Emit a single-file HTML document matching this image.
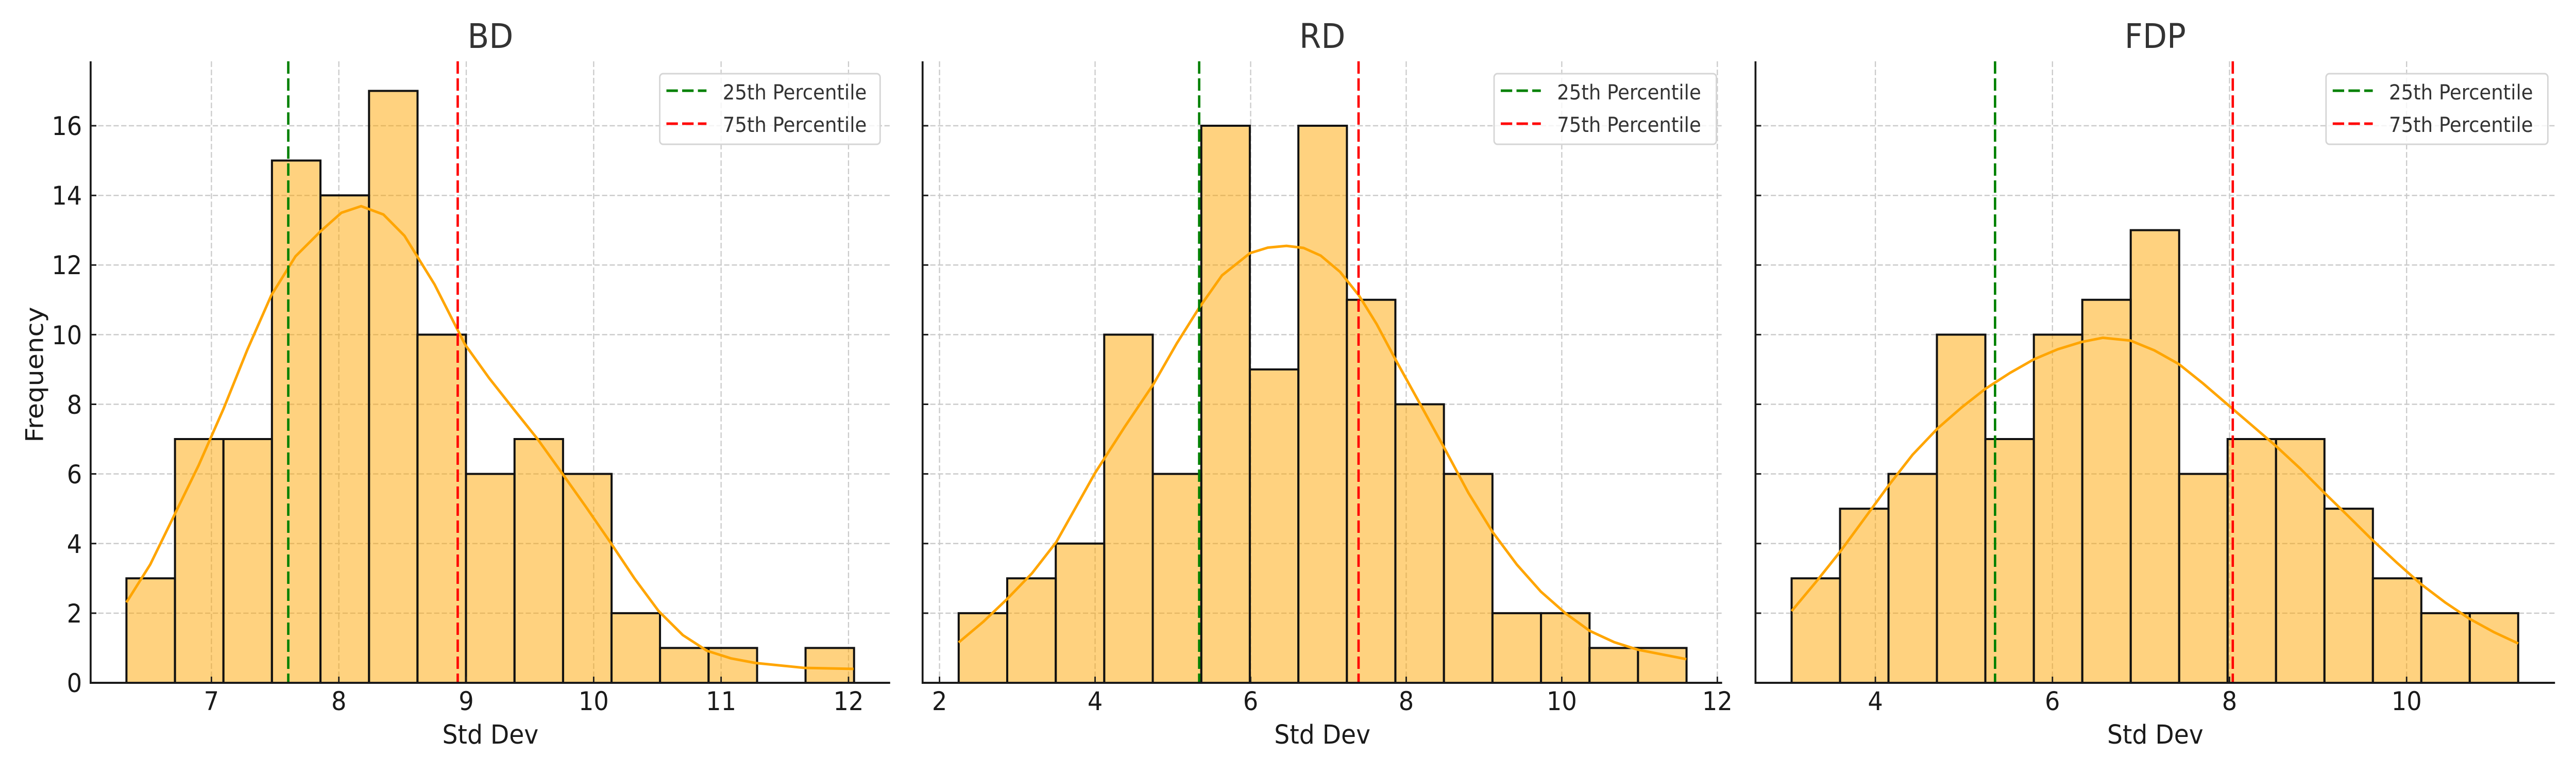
<!DOCTYPE html>
<html><head><meta charset="utf-8"><style>
html,body{margin:0;padding:0;background:#fff;width:100%;height:100%;overflow:hidden;}
svg text{font-family:"DejaVu Sans","Liberation Sans",sans-serif;}
#c{display:block;position:fixed;left:0;top:0;width:100vw;height:100vh;}
</style></head><body>
<svg id="c" viewBox="0 0 5400 1500" preserveAspectRatio="none" xmlns="http://www.w3.org/2000/svg">
<rect width="5400" height="1500" fill="#fff"/>
<g stroke="#cbcbcb" stroke-width="2.5" stroke-dasharray="11 5" fill="none">
<path d="M190 1189.9H1866M190 1054.8H1866M190 919.6H1866M190 784.5H1866M190 649.4H1866M190 514.3H1866M190 379.2H1866M190 244H1866"/>
<path d="M443.2 119V1325M710.3 119V1325M977.4 119V1325M1244.5 119V1325M1511.6 119V1325M1778.7 119V1325"/>
<path d="M1934 1189.9H3610M1934 1054.8H3610M1934 919.6H3610M1934 784.5H3610M1934 649.4H3610M1934 514.3H3610M1934 379.2H3610M1934 244H3610"/>
<path d="M1969.5 119V1325M2295.6 119V1325M2621.7 119V1325M2947.8 119V1325M3273.9 119V1325M3600 119V1325"/>
<path d="M3680 1189.9H5356M3680 1054.8H5356M3680 919.6H5356M3680 784.5H5356M3680 649.4H5356M3680 514.3H5356M3680 379.2H5356M3680 244H5356"/>
<path d="M3931.3 119V1325M4302.5 119V1325M4673.7 119V1325M5044.9 119V1325"/>
</g>

<svg x="190" y="119" width="1676" height="1206" viewBox="6.052 0 6.275 17.85" preserveAspectRatio="none">
<g fill="rgba(255,165,0,0.5)" stroke="#111" stroke-width="4">
<rect x="6.333" y="14.85" width="0.3807" height="3" vector-effect="non-scaling-stroke"/>
<rect x="6.714" y="10.85" width="0.3807" height="7" vector-effect="non-scaling-stroke"/>
<rect x="7.094" y="10.85" width="0.3807" height="7" vector-effect="non-scaling-stroke"/>
<rect x="7.475" y="2.85" width="0.3807" height="15" vector-effect="non-scaling-stroke"/>
<rect x="7.856" y="3.85" width="0.3807" height="14" vector-effect="non-scaling-stroke"/>
<rect x="8.237" y="0.85" width="0.3807" height="17" vector-effect="non-scaling-stroke"/>
<rect x="8.617" y="7.85" width="0.3807" height="10" vector-effect="non-scaling-stroke"/>
<rect x="8.998" y="11.85" width="0.3807" height="6" vector-effect="non-scaling-stroke"/>
<rect x="9.379" y="10.85" width="0.3807" height="7" vector-effect="non-scaling-stroke"/>
<rect x="9.760" y="11.85" width="0.3807" height="6" vector-effect="non-scaling-stroke"/>
<rect x="10.140" y="15.85" width="0.3807" height="2" vector-effect="non-scaling-stroke"/>
<rect x="10.521" y="16.85" width="0.3807" height="1" vector-effect="non-scaling-stroke"/>
<rect x="10.902" y="16.85" width="0.3807" height="1" vector-effect="non-scaling-stroke"/>
<rect x="11.663" y="16.85" width="0.3807" height="1" vector-effect="non-scaling-stroke"/>
</g>
<polyline fill="none" stroke="#FFA500" stroke-width="5" stroke-linejoin="round" vector-effect="non-scaling-stroke" points="6.333,15.54 6.52,14.45 6.70,13.10 6.90,11.60 7.095,9.98 7.28,8.30 7.47,6.72 7.66,5.60 7.86,4.87 8.02,4.35 8.175,4.16 8.35,4.40 8.515,5.01 8.75,6.40 8.99,8.13 9.18,9.10 9.37,9.98 9.56,10.85 9.75,11.82 9.94,12.80 10.13,13.81 10.32,14.85 10.51,15.79 10.70,16.48 10.89,16.93 11.08,17.15 11.27,17.28 11.65,17.42 12.04,17.45"/>
</svg>

<svg x="1934" y="119" width="1676" height="1206" viewBox="1.782 0 10.278 17.85" preserveAspectRatio="none">
<g fill="rgba(255,165,0,0.5)" stroke="#111" stroke-width="4">
<rect x="2.246" y="15.85" width="0.6238" height="2" vector-effect="non-scaling-stroke"/>
<rect x="2.870" y="14.85" width="0.6238" height="3" vector-effect="non-scaling-stroke"/>
<rect x="3.494" y="13.85" width="0.6238" height="4" vector-effect="non-scaling-stroke"/>
<rect x="4.117" y="7.85" width="0.6238" height="10" vector-effect="non-scaling-stroke"/>
<rect x="4.741" y="11.85" width="0.6238" height="6" vector-effect="non-scaling-stroke"/>
<rect x="5.365" y="1.85" width="0.6238" height="16" vector-effect="non-scaling-stroke"/>
<rect x="5.989" y="8.85" width="0.6238" height="9" vector-effect="non-scaling-stroke"/>
<rect x="6.613" y="1.85" width="0.6238" height="16" vector-effect="non-scaling-stroke"/>
<rect x="7.236" y="6.85" width="0.6238" height="11" vector-effect="non-scaling-stroke"/>
<rect x="7.860" y="9.85" width="0.6238" height="8" vector-effect="non-scaling-stroke"/>
<rect x="8.484" y="11.85" width="0.6238" height="6" vector-effect="non-scaling-stroke"/>
<rect x="9.108" y="15.85" width="0.6238" height="2" vector-effect="non-scaling-stroke"/>
<rect x="9.732" y="15.85" width="0.6238" height="2" vector-effect="non-scaling-stroke"/>
<rect x="10.355" y="16.85" width="0.6238" height="1" vector-effect="non-scaling-stroke"/>
<rect x="10.979" y="16.85" width="0.6238" height="1" vector-effect="non-scaling-stroke"/>
</g>
<polyline fill="none" stroke="#FFA500" stroke-width="5" stroke-linejoin="round" vector-effect="non-scaling-stroke" points="2.246,16.69 2.56,16.10 2.87,15.44 3.19,14.70 3.50,13.81 4.0,11.82 4.38,10.50 4.75,9.27 5.05,8.10 5.34,7.07 5.63,6.15 5.99,5.51 6.22,5.35 6.46,5.30 6.68,5.36 6.90,5.58 7.15,6.05 7.39,6.72 7.62,7.55 7.86,8.56 8.18,9.85 8.49,11.11 8.80,12.40 9.11,13.52 9.42,14.45 9.73,15.23 10.05,15.86 10.36,16.36 10.67,16.68 10.98,16.90 11.60,17.17"/>
</svg>

<svg x="3680" y="119" width="1676" height="1206" viewBox="2.646 0 9.03 17.85" preserveAspectRatio="none">
<g fill="rgba(255,165,0,0.5)" stroke="#111" stroke-width="4">
<rect x="3.054" y="14.85" width="0.5471" height="3" vector-effect="non-scaling-stroke"/>
<rect x="3.601" y="12.85" width="0.5471" height="5" vector-effect="non-scaling-stroke"/>
<rect x="4.148" y="11.85" width="0.5471" height="6" vector-effect="non-scaling-stroke"/>
<rect x="4.695" y="7.85" width="0.5471" height="10" vector-effect="non-scaling-stroke"/>
<rect x="5.242" y="10.85" width="0.5471" height="7" vector-effect="non-scaling-stroke"/>
<rect x="5.790" y="7.85" width="0.5471" height="10" vector-effect="non-scaling-stroke"/>
<rect x="6.337" y="6.85" width="0.5471" height="11" vector-effect="non-scaling-stroke"/>
<rect x="6.884" y="4.85" width="0.5471" height="13" vector-effect="non-scaling-stroke"/>
<rect x="7.431" y="11.85" width="0.5471" height="6" vector-effect="non-scaling-stroke"/>
<rect x="7.978" y="10.85" width="0.5471" height="7" vector-effect="non-scaling-stroke"/>
<rect x="8.525" y="10.85" width="0.5471" height="7" vector-effect="non-scaling-stroke"/>
<rect x="9.072" y="12.85" width="0.5471" height="5" vector-effect="non-scaling-stroke"/>
<rect x="9.619" y="14.85" width="0.5471" height="3" vector-effect="non-scaling-stroke"/>
<rect x="10.166" y="15.85" width="0.5471" height="2" vector-effect="non-scaling-stroke"/>
<rect x="10.713" y="15.85" width="0.5471" height="2" vector-effect="non-scaling-stroke"/>
</g>
<polyline fill="none" stroke="#FFA500" stroke-width="5" stroke-linejoin="round" vector-effect="non-scaling-stroke" points="3.054,15.79 3.33,14.95 3.60,14.09 3.88,13.12 4.15,12.18 4.42,11.30 4.70,10.55 4.97,9.95 5.24,9.41 5.52,8.95 5.79,8.56 6.06,8.27 6.33,8.06 6.57,7.94 6.88,8.02 7.15,8.30 7.43,8.70 7.70,9.25 7.97,9.84 8.25,10.45 8.52,11.04 8.80,11.70 9.07,12.39 9.34,13.06 9.61,13.74 9.89,14.40 10.16,15.01 10.44,15.55 10.71,16.01 10.99,16.40 11.26,16.72"/>
</svg>

<g stroke-width="5" stroke-dasharray="24 9" fill="none">
<path d="M604.3 119V1325" stroke="#008000"/>
<path d="M959.5 119V1325" stroke="#ff0000"/>
<path d="M2513.8 119V1325" stroke="#008000"/>
<path d="M2847.9 119V1325" stroke="#ff0000"/>
<path d="M4182.2 119V1325" stroke="#008000"/>
<path d="M4680.5 119V1325" stroke="#ff0000"/>
</g>

<g stroke="#1a1a1a" fill="none">
<path d="M190 119V1325H1866M1934 119V1325H3610M3680 119V1325H5356" stroke-width="4"/>
<path stroke-width="3" d="M190 1189.9h12M190 1054.8h12M190 919.6h12M190 784.5h12M190 649.4h12M190 514.3h12M190 379.2h12M190 244h12
M1934 1189.9h12M1934 1054.8h12M1934 919.6h12M1934 784.5h12M1934 649.4h12M1934 514.3h12M1934 379.2h12M1934 244h12
M3680 1189.9h12M3680 1054.8h12M3680 919.6h12M3680 784.5h12M3680 649.4h12M3680 514.3h12M3680 379.2h12M3680 244h12
M443.2 1325v-12M710.3 1325v-12M977.4 1325v-12M1244.5 1325v-12M1511.6 1325v-12M1778.7 1325v-12
M1969.5 1325v-12M2295.6 1325v-12M2621.7 1325v-12M2947.8 1325v-12M3273.9 1325v-12M3600 1325v-12
M3931.3 1325v-12M4302.5 1325v-12M4673.7 1325v-12M5044.9 1325v-12"/>
</g>

<g>
<rect x="1383" y="143" width="462" height="137" rx="7" fill="rgba(255,255,255,0.8)" stroke="#d5d5d5" stroke-width="3"/>
<path d="M1397 176H1481" stroke="#008000" stroke-width="5" stroke-dasharray="24 9"/>
<path d="M1397 240H1481" stroke="#ff0000" stroke-width="5" stroke-dasharray="24 9"/>
<text x="1515" y="193" font-size="40" fill="#333">25th Percentile</text>
<text x="1515" y="256" font-size="40" fill="#333">75th Percentile</text>

<rect x="3132" y="143" width="466" height="137" rx="7" fill="rgba(255,255,255,0.8)" stroke="#d5d5d5" stroke-width="3"/>
<path d="M3146 176H3230" stroke="#008000" stroke-width="5" stroke-dasharray="24 9"/>
<path d="M3146 240H3230" stroke="#ff0000" stroke-width="5" stroke-dasharray="24 9"/>
<text x="3264" y="193" font-size="40" fill="#333">25th Percentile</text>
<text x="3264" y="256" font-size="40" fill="#333">75th Percentile</text>

<rect x="4876" y="143" width="465" height="137" rx="7" fill="rgba(255,255,255,0.8)" stroke="#d5d5d5" stroke-width="3"/>
<path d="M4890 176H4974" stroke="#008000" stroke-width="5" stroke-dasharray="24 9"/>
<path d="M4890 240H4974" stroke="#ff0000" stroke-width="5" stroke-dasharray="24 9"/>
<text x="5008" y="193" font-size="40" fill="#333">25th Percentile</text>
<text x="5008" y="256" font-size="40" fill="#333">75th Percentile</text>
</g>

<g font-size="66" fill="#333" text-anchor="middle">
<text x="1028" y="93">BD</text>
<text x="2772" y="93">RD</text>
<text x="4518" y="93">FDP</text>
</g>

<g font-size="50" fill="#1a1a1a" text-anchor="end">
<text x="172" y="1343">0</text>
<text x="172" y="1208">2</text>
<text x="172" y="1073">4</text>
<text x="172" y="938">6</text>
<text x="172" y="803">8</text>
<text x="172" y="668">10</text>
<text x="172" y="532">12</text>
<text x="172" y="397">14</text>
<text x="172" y="262">16</text>
</g>
<g font-size="50" fill="#1a1a1a" text-anchor="middle">
<text x="443.2" y="1378">7</text>
<text x="710.3" y="1378">8</text>
<text x="977.4" y="1378">9</text>
<text x="1244.5" y="1378">10</text>
<text x="1511.6" y="1378">11</text>
<text x="1778.7" y="1378">12</text>
<text x="1969.5" y="1378">2</text>
<text x="2295.6" y="1378">4</text>
<text x="2621.7" y="1378">6</text>
<text x="2947.8" y="1378">8</text>
<text x="3273.9" y="1378">10</text>
<text x="3600" y="1378">12</text>
<text x="3931.3" y="1378">4</text>
<text x="4302.5" y="1378">6</text>
<text x="4673.7" y="1378">8</text>
<text x="5044.9" y="1378">10</text>
</g>

<g font-size="51" fill="#1a1a1a" text-anchor="middle">
<text x="1028" y="1443">Std Dev</text>
<text x="2772" y="1443">Std Dev</text>
<text x="4518" y="1443">Std Dev</text>
<text transform="translate(90,727) rotate(-90)" x="0" y="0">Frequency</text>
</g>
</svg>
</body></html>
